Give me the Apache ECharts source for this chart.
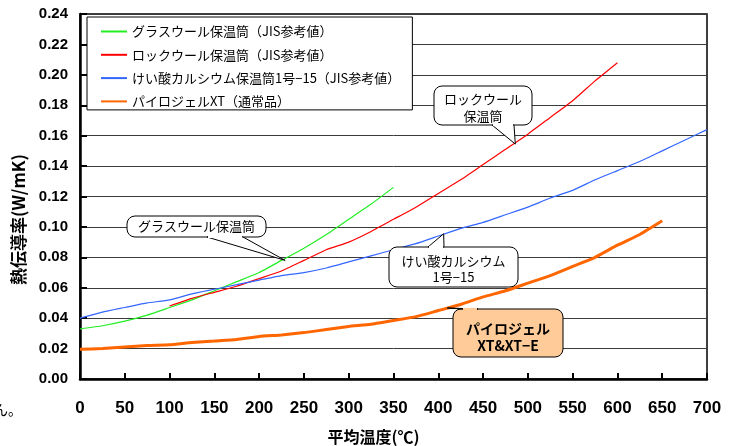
<!DOCTYPE html>
<html><head><meta charset="utf-8">
<script src="https://cdn.jsdelivr.net/npm/echarts@6/dist/echarts.min.js"></script>
<style>html,body{margin:0;padding:0;background:#fff}#c{width:736px;height:446px}</style>
</head><body><div id="c"></div>
<script>
// ---- data ----
const seriesNames = [
  'グラスウール保温筒（JIS参考値）',
  'ロックウール保温筒（JIS参考値）',
  'けい酸カルシウム保温筒1号−15（JIS参考値）',
  'パイロジェルXT（通常品）'
];
const glassX = [0,25,50,75,100,125,150,175,200,225,250,275,300,325,350];
const glassY = [0.033,0.035,0.038,0.042,0.047,0.052,0.058,0.064,0.070,0.078,0.086,0.095,0.105,0.115,0.126];
const rockX = [100,125,150,175,200,225,250,275,300,325,350,375,400,425,450,475,500,525,550,575,600];
const rockY = [0.048,0.053,0.057,0.061,0.066,0.071,0.078,0.085,0.090,0.097,0.105,0.113,0.122,0.131,0.141,0.151,0.161,0.172,0.183,0.196,0.208];
const calX = [0,25,50,75,100,125,150,175,200,225,250,275,300,325,350,375,400,425,450,475,500,525,550,575,600,625,650,675,700];
const calY = [0.040,0.044,0.047,0.050,0.052,0.056,0.059,0.062,0.065,0.068,0.070,0.073,0.077,0.081,0.085,0.089,0.094,0.099,0.103,0.108,0.113,0.119,0.124,0.131,0.137,0.143,0.150,0.157,0.164];
const pyroX = [0,25,50,75,100,125,150,175,200,225,250,275,300,325,350,375,400,425,450,475,500,525,550,575,600,625,650];
const pyroY = [0.0195,0.020,0.021,0.022,0.0225,0.024,0.025,0.026,0.028,0.029,0.0305,0.0325,0.0345,0.036,0.0385,0.041,0.045,0.049,0.054,0.058,0.063,0.068,0.074,0.080,0.088,0.095,0.104];
const xTickMax = 700, xTickStep = 50;
const yTickMax = 0.24, yTickStep = 0.02;
const calloutTexts = [['グラスウール保温筒'], ['ロックウール','保温筒'], ['けい酸カルシウム','1号−15'], ['パイロジェル','XT&XT−E']];
const calloutAnchors = [[229,0.078],[486,0.1545],[406,0.0955],[410,0.0467]];

// ---- layout / style (not data) ----
const colors = ['#22EE22','#FF0000','#3366FF','#FF6600'];
const widths = [1.2,1.2,1.2,3];
const calloutLayout = [
  {box:[127,216,139,21], side:'bottom', base:[207,243], lineY:[226.5], fill:'#fff', font:'13px "Noto Sans CJK JP"'},
  {box:[434,86,98,39], side:'bottom', base:[492,514], lineY:[99,116], fill:'#fff', font:'13px "Noto Sans CJK JP"'},
  {box:[389,247,129,40], side:'top', base:[428,444], lineY:[261,277], fill:'#fff', font:'13px "Noto Sans CJK JP"'},
  {box:[453,309,110,48], side:'top', base:[462,478], lineY:[329,346], fill:'#FFCC99', font:'bold 14px "Noto Sans CJK JP"'}
];

const pairs = (xs, ys) => xs.map((x,i)=>[x, ys[i]]);
const dataSets = [pairs(glassX,glassY), pairs(rockX,rockY), pairs(calX,calY), pairs(pyroX,pyroY)];

const chart = echarts.init(document.getElementById('c'), null, {renderer:'canvas'});
const option = {
  animation: false,
  backgroundColor: '#fff',
  textStyle: {fontFamily: '"Liberation Sans", "Noto Sans CJK JP"'},
  grid: {left:80, right:29, top:14, bottom:67, containLabel:false, outerBoundsMode:'none',
    show:true, borderColor:'#000', borderWidth:1.5, backgroundColor:'transparent'},
  legend: {
    orient:'vertical', left:87, top:17, data: seriesNames,
    backgroundColor:'#fff', borderColor:'#000', borderWidth:1,
    padding:[8,12,2,13], itemGap:10.3, itemWidth:26, itemHeight:14,
    itemStyle:{opacity:0},
    textStyle:{fontFamily:'"Noto Sans CJK JP"', fontSize:13, color:'#000'}
  },
  xAxis: {
    type:'value', min:0, max:xTickMax, interval:xTickStep,
    name:'平均温度(℃)', nameLocation:'middle', nameGap:50,
    nameTextStyle:{fontFamily:'"Noto Sans CJK JP"', fontWeight:'bold', fontSize:16, color:'#000', padding:[0,40,0,0]},
    axisLine:{show:true, lineStyle:{color:'#000', width:2.5}},
    axisTick:{show:true, inside:true, length:6, lineStyle:{color:'#000', width:2}},
    axisLabel:{fontWeight:'bold', fontSize:17, color:'#000', margin:21, fontFamily:'"Liberation Sans"'},
    splitLine:{show:false}
  },
  yAxis: {
    type:'value', min:0, max:yTickMax, interval:yTickStep,
    name:'熱伝導率(W/mK)', nameLocation:'middle', nameGap:53, nameRotate:90,
    nameTextStyle:{fontFamily:'"Noto Sans CJK JP"', fontWeight:'bold', fontSize:17, color:'#000', padding:[0,46,0,0]},
    axisLine:{show:true, lineStyle:{color:'#000', width:2.5}},
    axisTick:{show:true, inside:true, length:7, lineStyle:{color:'#000', width:2}},
    axisLabel:{fontWeight:'bold', fontSize:15, color:'#000', margin:12, fontFamily:'"Liberation Sans"',
      formatter: v => v.toFixed(2)},
    splitLine:{show:true, lineStyle:{color:'#3a3a3a', width:1}}
  },
  series: seriesNames.map((n,i)=>({
    name:n, type:'line', data:dataSets[i], showSymbol:false, symbol:'none',
    smooth:0.15, lineStyle:{color:colors[i], width:widths[i]}, itemStyle:{color:colors[i]}, z: 3+i
  }))
};
chart.setOption(option);

// ---- callouts ----
const graphics = [];
calloutLayout.forEach((L, k) => {
  const [bx,by,bw,bh] = L.box;
  const tip = chart.convertToPixel({gridIndex:0}, calloutAnchors[k]);
  const ey = L.side === 'bottom' ? by + bh : by;
  const z = 100 + k*10;
  graphics.push({type:'rect', shape:{x:bx, y:by, width:bw, height:bh, r:8},
    style:{fill:L.fill, stroke:'#000', lineWidth:1}, z:z});
  graphics.push({type:'polygon', shape:{points:[[L.base[0],ey],[tip[0],tip[1]],[L.base[1],ey]]},
    style:{fill:L.fill, stroke:'#000', lineWidth:1}, z:z+1});
  graphics.push({type:'line', shape:{x1:L.base[0]+1, y1:ey, x2:L.base[1]-1, y2:ey},
    style:{stroke:L.fill, lineWidth:2.2}, z:z+2});
  const cx = bx + bw/2;
  calloutTexts[k].forEach((t, j) => {
    graphics.push({type:'text', z:z+3, style:{text:t, x:cx, y:L.lineY[j], textAlign:'center', textVerticalAlign:'middle', font:L.font, fill:'#000'}});
  });
});
graphics.push({type:'text', z:200, style:{text:'ん。', x:-6, y:410, textVerticalAlign:'middle', font:'14px "Noto Sans CJK JP"', fill:'#000'}});
chart.setOption({graphic: graphics});
</script>
</body></html>
